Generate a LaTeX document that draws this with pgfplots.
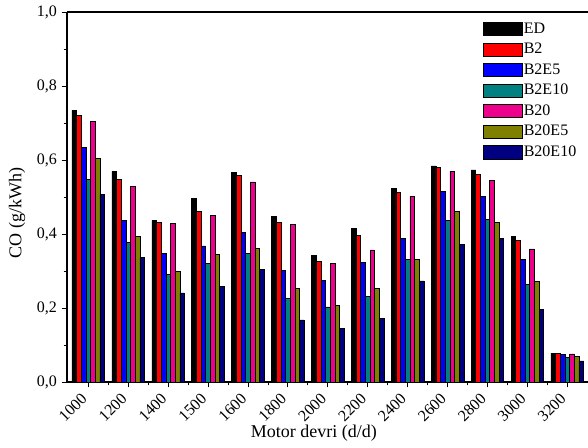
\documentclass[border=0pt]{standalone}
\usepackage{pgfplots}
\usepackage{pgfplotstable}
\pgfplotsset{compat=1.18}
\usepackage{fontspec}
\setmainfont{Liberation Serif}
\definecolor{cteal}{RGB}{0,128,128}
\definecolor{colive}{RGB}{128,128,0}
\definecolor{cnavy}{RGB}{0,0,128}
\pgfplotstableread{
x ED B2 B2E5 B2E10 B20 B20E5 B20E10
0 0.735 0.721 0.634 0.548 0.705 0.605 0.507
1 0.569 0.548 0.437 0.378 0.529 0.394 0.336
2 0.437 0.432 0.348 0.290 0.429 0.299 0.241
3 0.497 0.461 0.368 0.320 0.450 0.344 0.259
4 0.567 0.559 0.404 0.347 0.541 0.361 0.304
5 0.447 0.432 0.301 0.225 0.425 0.253 0.168
6 0.342 0.326 0.275 0.203 0.321 0.207 0.145
7 0.415 0.396 0.323 0.232 0.357 0.252 0.171
8 0.523 0.512 0.389 0.331 0.501 0.332 0.273
9 0.584 0.579 0.515 0.437 0.569 0.461 0.371
10 0.573 0.562 0.501 0.440 0.544 0.432 0.389
11 0.394 0.383 0.332 0.263 0.360 0.272 0.196
12 0.078 0.077 0.074 0.067 0.076 0.070 0.057
}\data
\begin{document}
\begin{tikzpicture}
\useasboundingbox (-50.25pt,-49.5pt) rectangle (390.75pt,286.5pt);
\begin{axis}[
  at={(0,0)}, anchor=south west,
  scale only axis, width=390.75pt, height=277.5pt,
  clip mode=individual,
  ybar=0pt, bar width=3.5pt,
  xmin=-0.534, xmax=12.52, ymin=0, ymax=1,
  xtick={0,...,12},
  xticklabels={1000,1200,1400,1500,1600,1800,2000,2200,2400,2600,2800,3000,3200},
  minor x tick num=1,
  ytick={0,0.2,0.4,0.6,0.8,1.0}, minor y tick num=1,
  axis x line*=box, axis y line*=left,
  xtick pos=bottom, ytick pos=left,
  tick align=outside,
  major tick length=4pt, minor tick length=2.5pt,
  every tick/.style={black, line width=0.6pt},
  axis line style={black, line width=0.8pt},
  tick label style={font=\fontsize{12}{14}\selectfont},
  /pgf/number format/assume math mode=true,
  yticklabel style={/pgf/number format/.cd, fixed, fixed zerofill, precision=1, use comma},
  xticklabel style={yshift=-9.5pt, rotate=45, anchor=south east, inner sep=0pt},
  xlabel={Motor devri (d/d)},
  ylabel={CO (g/kWh)},
  label style={font=\fontsize{13.5}{15}\selectfont},
  xlabel style={at={(axis description cs:0.474,-0.138)}, anchor=center},
  ylabel style={at={(axis description cs:-0.096,0.457)}, anchor=center, rotate=0},
  legend image code/.code={\draw[#1, draw=black, line width=0.4pt] (0pt,-4.9pt) rectangle (29pt,4.9pt);},
  legend style={draw=none, fill=none, at={(axis description cs:0.7985,0.978)}, anchor=north west,
    font=\fontsize{12}{14}\selectfont, inner sep=0pt, row sep=2.4pt,
    nodes={inner sep=1pt, text height=8.5pt, text depth=2.5pt}},
  legend cell align=left,
]
\addplot[fill=black, draw=black, line width=0.4pt] table[x=x,y=ED]{\data};
\addplot[fill=red, draw=black, line width=0.4pt] table[x=x,y=B2]{\data};
\addplot[fill=blue, draw=black, line width=0.4pt] table[x=x,y=B2E5]{\data};
\addplot[fill=cteal, draw=black, line width=0.4pt] table[x=x,y=B2E10]{\data};
\addplot[fill=magenta, draw=black, line width=0.4pt] table[x=x,y=B20]{\data};
\addplot[fill=colive, draw=black, line width=0.4pt] table[x=x,y=B20E5]{\data};
\addplot[fill=cnavy, draw=black, line width=0.4pt] table[x=x,y=B20E10]{\data};
\legend{ED,B2,B2E5,B2E10,B20,B20E5,B20E10}
\end{axis}
\end{tikzpicture}
\end{document}
